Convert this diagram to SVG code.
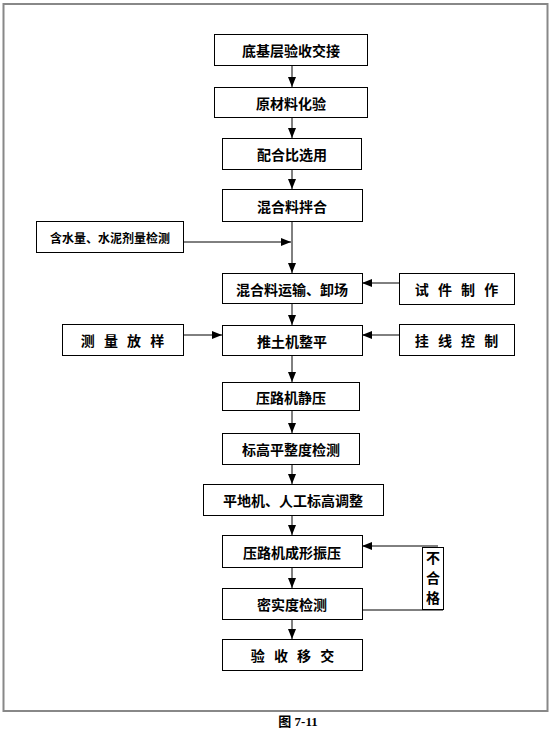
<svg xmlns="http://www.w3.org/2000/svg" width="554" height="738" viewBox="0 0 554 738">
<style>
.box{fill:#fff;stroke:#000;stroke-width:1}
.t{font-family:"Noto Sans CJK SC","Noto Sans CJK JP",sans-serif;font-size:14px;font-weight:bold;fill:#000;text-anchor:middle;dominant-baseline:central}
.sp{letter-spacing:3px}
.c{stroke:#000;stroke-width:1;fill:none}
</style>
<defs>
<marker id="ah" markerUnits="userSpaceOnUse" markerWidth="10" markerHeight="10" viewBox="0 0 10 10" refX="10" refY="5" orient="auto">
<path d="M0,1 L10,5 L0,9 Z" fill="#000"/>
</marker>
</defs>
<rect x="0" y="0" width="554" height="738" fill="#fff"/>
<rect x="3.5" y="4" width="544" height="707" fill="none" stroke="#888" stroke-width="2"/>
<g id="connectors">
<line class="c" x1="292" y1="66" x2="292" y2="87" marker-end="url(#ah)"/>
<line class="c" x1="292" y1="117" x2="292" y2="138" marker-end="url(#ah)"/>
<line class="c" x1="292" y1="169" x2="292" y2="189" marker-end="url(#ah)"/>
<line class="c" x1="292" y1="221" x2="292" y2="273" marker-end="url(#ah)"/>
<line class="c" x1="183" y1="242" x2="291" y2="242" marker-end="url(#ah)"/>
<line class="c" x1="399" y1="283" x2="362" y2="283" marker-end="url(#ah)"/>
<line class="c" x1="292" y1="303" x2="292" y2="325" marker-end="url(#ah)"/>
<line class="c" x1="183" y1="335" x2="222" y2="335" marker-end="url(#ah)"/>
<line class="c" x1="399" y1="335" x2="362" y2="335" marker-end="url(#ah)"/>
<line class="c" x1="292" y1="355" x2="292" y2="382" marker-end="url(#ah)"/>
<line class="c" x1="292" y1="410" x2="292" y2="433" marker-end="url(#ah)"/>
<line class="c" x1="292" y1="464" x2="292" y2="484" marker-end="url(#ah)"/>
<line class="c" x1="292" y1="515" x2="292" y2="535" marker-end="url(#ah)"/>
<line class="c" x1="292" y1="567" x2="292" y2="588" marker-end="url(#ah)"/>
<line class="c" x1="292" y1="619" x2="292" y2="639" marker-end="url(#ah)"/>
<line class="c" x1="362" y1="610" x2="443" y2="610" stroke="#555"/>
<line class="c" x1="438" y1="546" x2="362" y2="546" marker-end="url(#ah)"/>
</g>
<g id="n1"><rect class="box" x="214.5" y="34.5" width="153" height="31"/><text class="t" x="291" y="50">底基层验收交接</text></g>
<g id="n2"><rect class="box" x="214.5" y="87.5" width="153" height="30"/><text class="t" x="291" y="102.5">原材料化验</text></g>
<g id="n3"><rect class="box" x="222.5" y="138.5" width="139" height="31"/><text class="t" x="292" y="154">配合比选用</text></g>
<g id="n4"><rect class="box" x="222.5" y="189.5" width="140" height="32"/><text class="t" x="292" y="205.5">混合料拌合</text></g>
<g id="n5"><rect class="box" x="36.5" y="221.5" width="147" height="31"/><text class="t" x="110" y="237" style="font-size:12px">含水量、水泥剂量检测</text></g>
<g id="n6"><rect class="box" x="222.5" y="273.5" width="140" height="30"/><text class="t" x="292" y="288.5">混合料运输、卸场</text></g>
<g id="n7"><rect class="box" x="399.5" y="273.5" width="115" height="31"/><text class="t sp" x="458" y="289">试 件 制 作</text></g>
<g id="n8"><rect class="box" x="62.5" y="324.5" width="121" height="31"/><text class="t sp" x="124" y="340">测 量 放 样</text></g>
<g id="n9"><rect class="box" x="222.5" y="325.5" width="140" height="30"/><text class="t" x="292" y="340.5">推土机整平</text></g>
<g id="n10"><rect class="box" x="399.5" y="324.5" width="115" height="31"/><text class="t sp" x="458" y="340">挂 线 控 制</text></g>
<g id="n11"><rect class="box" x="222.5" y="382.5" width="137" height="28"/><text class="t" x="291" y="396.5">压路机静压</text></g>
<g id="n12"><rect class="box" x="222.5" y="433.5" width="137" height="31"/><text class="t" x="291" y="449">标高平整度检测</text></g>
<g id="n13"><rect class="box" x="203.5" y="484.5" width="180" height="31"/><text class="t" x="293" y="500">平地机、人工标高调整</text></g>
<g id="n14"><rect class="box" x="222.5" y="535.5" width="140" height="32"/><text class="t" x="292" y="551.5">压路机成形振压</text></g>
<g id="n15"><rect class="box" x="222.5" y="588.5" width="140" height="31"/><text class="t" x="292" y="604">密实度检测</text></g>
<g id="n16"><rect class="box" x="222.5" y="639.5" width="140" height="31"/><text class="t sp" x="294" y="655">验 收 移 交</text></g>
<g id="n17"><rect class="box" x="422.5" y="547.5" width="21" height="62"/><text class="t" x="433" y="557" style="font-size:14px">不</text><text class="t" x="433" y="577" style="font-size:14px">合</text><text class="t" x="433" y="597" style="font-size:14px">格</text></g>
<text x="298" y="726" text-anchor="middle" style="font-family:'Liberation Serif','Noto Sans CJK SC',serif;font-size:13px;font-weight:bold">图 7-11</text>
</svg>
